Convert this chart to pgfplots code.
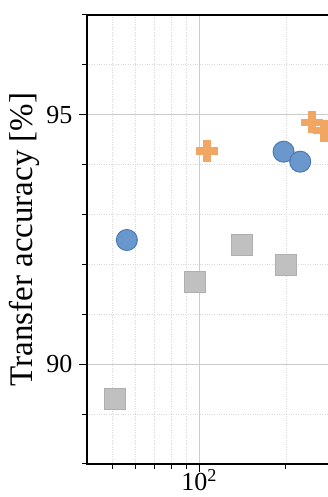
\documentclass[border=0pt]{standalone}
\usepackage{fontspec}
\setmainfont{Liberation Serif}
\usepackage{pgfplots}
\pgfplotsset{compat=1.18}
\definecolor{cblue}{HTML}{6A97CC}
\definecolor{cblueedge}{HTML}{4B7AB5}
\definecolor{corange}{HTML}{F2A664}
\definecolor{cgray}{HTML}{C0C0C0}
\definecolor{cgrayedge}{HTML}{AFAFAF}
\begin{document}
\begin{tikzpicture}[x=1pt,y=1pt]
\path[use as bounding box, clip] (0,0) rectangle (328,497);
\begin{axis}[
 at={(87pt,33pt)}, anchor=south west, scale only axis,
 width=400.3pt, height=449pt,
 xmode=log, xmin=40.8, xmax=1000, ymin=88, ymax=97,
 xtick={100}, xticklabels={10\textsuperscript{2}},
 minor xtick={50,60,70,80,90,200,300,400,500,600,700,800,900},
 ytick={90,95}, minor ytick={88,89,91,92,93,94,96,97},
 tick pos=left, tick align=outside,
 major tick length=8pt, minor tick length=5pt,
 every tick/.style={black, line width=1pt},
 axis line style={line width=1.8pt},
 grid=both,
 major grid style={gray!40, line width=0.8pt},
 minor grid style={gray!30, dotted, line width=0.8pt},
 ticklabel style={font=\fontsize{26}{30}\selectfont},
 yticklabel style={xshift=-3pt},
 xticklabel style={yshift=4pt, inner sep=1pt},
 /pgf/number format/assume math mode=true,
 ylabel={Transfer accuracy [\%]},
 ylabel style={font=\fontsize{33}{38}\selectfont, at={(axis description cs:-0.156,0.5)}, anchor=center},
]
\addplot[only marks, mark=*, mark size=10.5pt, mark options={fill=cblue, draw=cblueedge, line width=1pt}]
 coordinates {(56.1,92.49) (196.3,94.26) (224.2,94.06)};
\addplot[only marks, mark=+, mark size=11pt, mark options={draw=corange, line width=7.5pt}]
 coordinates {(106.3,94.27) (246.7,94.85) (271.6,94.68)};
\addplot[only marks, mark=square*, mark size=10.5pt, mark options={fill=cgray, draw=cgrayedge, line width=0.8pt}]
 coordinates {(50.95,89.30) (96.4,91.65) (140.7,92.40) (199.5,92.0)};
\end{axis}
\end{tikzpicture}
\end{document}
